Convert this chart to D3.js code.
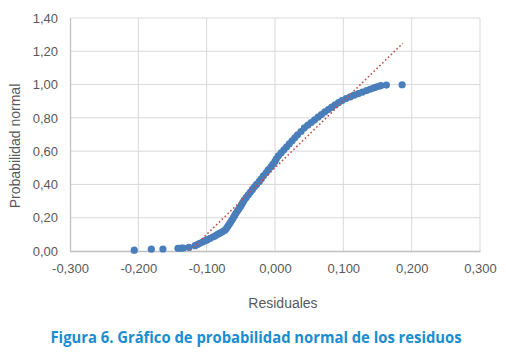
<!DOCTYPE html>
<html><head><meta charset="utf-8">
<script src="https://cdn.jsdelivr.net/npm/d3@7"></script>
<style>html,body{margin:0;padding:0;background:#fff;}</style>
</head><body>
<svg id="c" width="506" height="357"></svg>
<script>
// Residuals (x) and normal probability (y)
const residuals = [-0.206,-0.181,-0.164,-0.142,-0.137,-0.134,-0.126,
 -0.117,-0.113,-0.110,-0.106,-0.102,-0.099,-0.095,-0.091,-0.088,-0.085,-0.082,-0.079,-0.076,-0.073,-0.071,-0.069,-0.067,-0.065,-0.063,-0.061,-0.059,-0.057,-0.055,-0.053,-0.051,-0.049,-0.047,-0.045,-0.042,-0.039,-0.036,-0.033,-0.030,-0.027,-0.023,-0.020,-0.017,-0.013,-0.010,-0.006,-0.003,0.000,
 0.002,0.005,0.009,0.013,0.017,0.021,0.025,0.029,0.033,0.038,
 0.043,0.048,0.053,0.058,0.063,0.068,0.073,0.078,0.083,0.088,0.093,0.098,0.104,0.110,0.116,0.122,0.128,0.134,0.139,0.144,0.148,0.152,0.155,0.163,0.186];
const probabilities = [0.005,0.011,0.012,0.016,0.017,0.018,0.022,
 0.032,0.040,0.046,0.054,0.062,0.068,0.076,0.084,0.090,0.097,0.104,0.111,0.118,0.126,0.136,0.148,0.160,0.172,0.186,0.200,0.214,0.228,0.240,0.252,0.264,0.278,0.292,0.306,0.322,0.338,0.354,0.370,0.386,0.400,0.418,0.434,0.452,0.470,0.488,0.506,0.522,0.538,
 0.554,0.572,0.590,0.608,0.626,0.644,0.662,0.680,0.698,0.718,
 0.740,0.756,0.772,0.788,0.804,0.820,0.836,0.850,0.864,0.878,0.892,0.904,0.916,0.926,0.936,0.946,0.955,0.964,0.972,0.979,0.985,0.990,0.994,0.997,0.999];
// Linear trend line endpoints
const trendX = [-0.124, 0.187];
const trendY = [0.004, 1.248];
// Axis ticks
const xTicks = [-0.3,-0.2,-0.1,0,0.1,0.2,0.3];
const yTicks = [0,0.2,0.4,0.6,0.8,1.0,1.2,1.4];
const xTitle = "Residuales";
const yTitle = "Probabilidad normal";
const caption = "Figura 6. Gráfico de probabilidad normal de los residuos";

const loc = d3.formatLocale({decimal:",", thousands:".", grouping:[3], currency:["",""], minus:"-"});
const fx = loc.format(".3f"), fy = loc.format(".2f");

const svg = d3.select("#c");
const x = d3.scaleLinear().domain([-0.3,0.3]).range([70,480]);
const y = d3.scaleLinear().domain([0,1.4]).range([251,18]);
const font = "'Liberation Sans', Arial, sans-serif";

// gridlines
svg.append("g").selectAll("line").data(yTicks.filter(d=>d>0)).join("line")
  .attr("x1",x(-0.3)).attr("x2",x(0.3)).attr("y1",d=>y(d)).attr("y2",d=>y(d))
  .attr("stroke","#d9d9d9").attr("stroke-width",1);
svg.append("g").selectAll("line").data(xTicks.filter(d=>d>-0.3)).join("line")
  .attr("y1",y(0)).attr("y2",y(1.4)).attr("x1",d=>x(d)).attr("x2",d=>x(d))
  .attr("stroke","#d9d9d9").attr("stroke-width",1);

// axes
const xa = svg.append("g").attr("transform",`translate(0,${y(0)})`)
  .call(d3.axisBottom(x).tickValues(xTicks).tickFormat(fx).tickSize(0).tickPadding(13));
xa.select(".domain").attr("stroke","#bfbfbf").attr("stroke-width",1.3);
xa.selectAll("text").attr("fill","#595959").style("font-family",font).style("font-size","13px");
const ya = svg.append("g").attr("transform",`translate(${x(-0.3)},0)`)
  .call(d3.axisLeft(y).tickValues(yTicks).tickFormat(fy).tickSize(0).tickPadding(12));
ya.select(".domain").attr("stroke","#bfbfbf").attr("stroke-width",1.3);
ya.selectAll("text").attr("fill","#595959").style("font-family",font).style("font-size","13px");

// points
const pts = residuals.map((r,i)=>({r, p:probabilities[i]}));
svg.append("g").selectAll("circle").data(pts).join("circle")
  .attr("cx",d=>x(d.r)).attr("cy",d=>y(d.p)).attr("r",3.6)
  .attr("fill","#4a7ebb");

// trend line
svg.append("line")
  .attr("x1",x(trendX[0])).attr("y1",y(trendY[0]))
  .attr("x2",x(trendX[1])).attr("y2",y(trendY[1]))
  .attr("stroke","#c0504d").attr("stroke-width",1.6).attr("stroke-dasharray","1.6,2.4");

// titles
svg.append("text").attr("x",283).attr("y",308).attr("text-anchor","middle")
  .attr("fill","#595959").style("font-family",font).style("font-size","14px").text(xTitle);
svg.append("text").attr("transform","translate(20,146) rotate(-90)").attr("text-anchor","middle")
  .attr("fill","#595959").style("font-family",font).style("font-size","14px").text(yTitle);
svg.append("text").attr("x",256).attr("y",343).attr("text-anchor","middle")
  .attr("fill","#1a8dd0").style("font-family","'Open Sans', sans-serif").style("font-weight","700")
  .style("font-size","16px").attr("textLength",411).attr("lengthAdjust","spacingAndGlyphs").text(caption);
</script>
</body></html>
